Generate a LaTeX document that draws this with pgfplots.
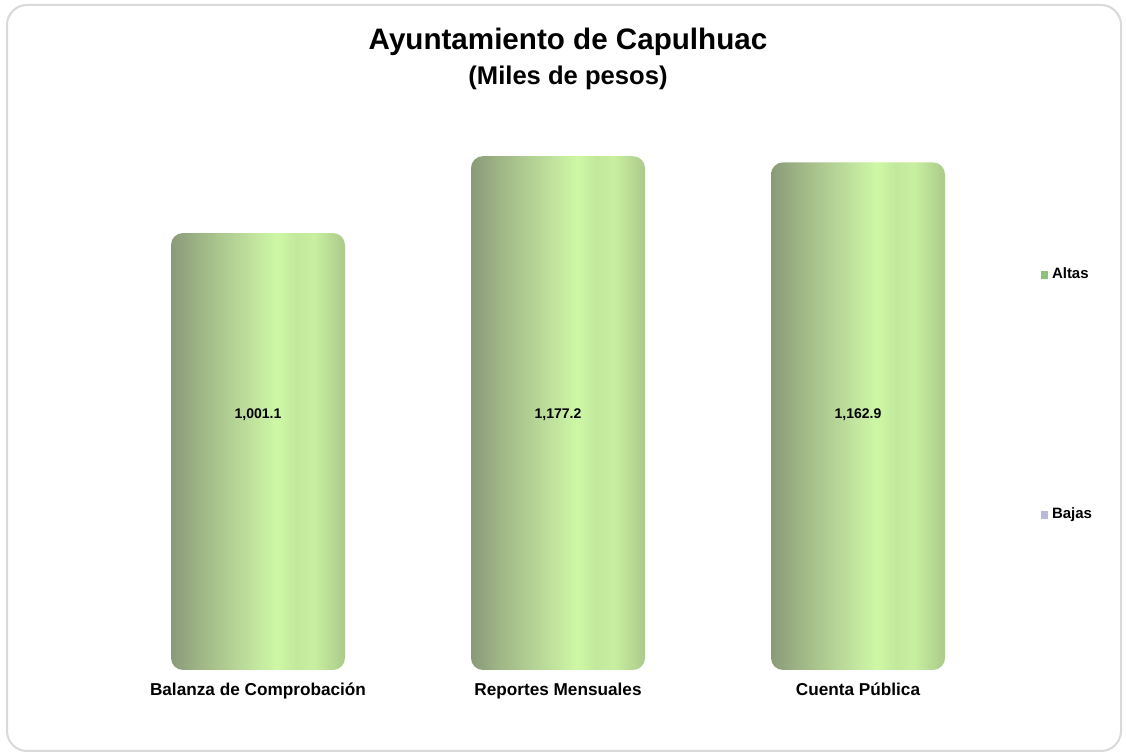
\documentclass[border=0pt]{standalone}
\usepackage{fontspec}
\setmainfont{Liberation Sans}
\usepackage{pgfplots}
\pgfplotsset{compat=1.18}

\definecolor{cA}{HTML}{8A9A7A}
\definecolor{cB}{HTML}{A3BB88}
\definecolor{cC}{HTML}{BEE09C}
\definecolor{cD}{HTML}{CEF8A5}
\definecolor{cE}{HTML}{C2E89C}
\definecolor{cF}{HTML}{C8F0A0}
\definecolor{cG}{HTML}{ACC98B}
\definecolor{cAltas}{HTML}{8CC27A}
\definecolor{cBajas}{HTML}{B8B8DC}
\definecolor{cFrame}{HTML}{D9D9D9}

\pgfdeclarehorizontalshading{cyl}{100bp}{color(0bp)=(cA); color(25bp)=(cA);
  color(35bp)=(cB); color(47.5bp)=(cC); color(55.5bp)=(cD); color(61bp)=(cE);
  color(66bp)=(cF); color(75bp)=(cG); color(100bp)=(cG)}

\pgfplotsset{cylbar/.style={draw=none, shading=cyl, rounded corners=6pt, bar shift=0pt, forget plot}}

\begin{document}
\begin{tikzpicture}
\useasboundingbox (0,0) rectangle (563pt,377pt);
\draw[cFrame, line width=1pt, rounded corners=10pt] (3.5pt,1.5pt) rectangle (560.5pt,374.5pt);

\node[anchor=base, font=\bfseries\fontsize{14.8}{17}\selectfont] at (284pt,352pt) {Ayuntamiento de Capulhuac};
\node[anchor=base, font=\bfseries\fontsize{12.8}{15}\selectfont] at (284pt,334.5pt) {(Miles de pesos)};

\begin{axis}[
    at={(54pt,42pt)}, anchor=south west,
    scale only axis,
    width=450pt, height=272.8pt,
    ybar, bar width=87pt,
    xmin=-0.5, xmax=2.5,
    ymin=0, ymax=1250,
    xtick={0,1,2},
    xticklabels={Balanza de Comprobación, Reportes Mensuales, Cuenta Pública},
    xticklabel style={anchor=base, yshift=-13pt, font=\bfseries\fontsize{8.6}{10}\selectfont},
    ytick=\empty,
    major tick length=0pt,
    axis line style={draw=none},
    /pgf/number format/assume math mode=true,
    nodes near coords={\pgfmathprintnumber[fixed, fixed zerofill, precision=1, 1000 sep={,}]{\pgfplotspointmeta}},
    visualization depends on=rawy \as \rawy,
    every node near coord/.append style={anchor=center, font=\bfseries\fontsize{7}{8}\selectfont,
        shift={(axis direction cs:0,584-\rawy)}},
    legend style={at={(1.036,0.745)}, anchor=north west, draw=none, fill=none,
        font=\bfseries\fontsize{7.5}{9}\selectfont, row sep=109pt, inner sep=0pt},
    legend cell align=left,
]
\addplot[cylbar] coordinates {(0,1001.1)};
\addplot[cylbar] coordinates {(1,1177.2)};
\addplot[cylbar] coordinates {(2,1162.9)};
\addlegendimage{legend image code/.code={\fill[cAltas] (0pt,-1.6pt) rectangle (3.2pt,1.6pt);}}
\addlegendentry{Altas}
\addlegendimage{legend image code/.code={\fill[cBajas] (0pt,-1.6pt) rectangle (3.2pt,1.6pt);}}
\addlegendentry{Bajas}
\end{axis}
\end{tikzpicture}
\end{document}
